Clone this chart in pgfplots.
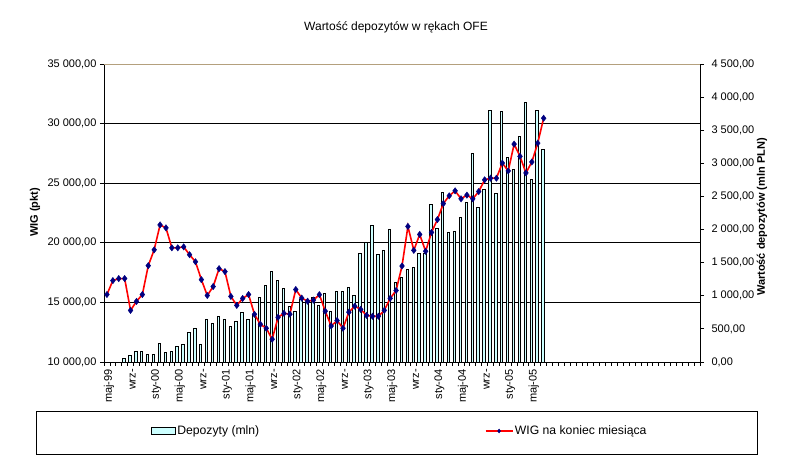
\documentclass[border=0pt]{standalone}
\usepackage{pgfplots}
\pgfplotsset{compat=1.18}
\usepackage{fontspec}
\setmainfont{Liberation Sans}
\definecolor{barfill}{HTML}{CCFFFF}
\definecolor{navyc}{HTML}{000080}
\definecolor{tanc}{RGB}{180,160,125}
\pgfplotsset{
  base/.style={width=596bp,height=298bp,scale only axis,at={(0,0)},anchor=south west,
    xmin=0.5,xmax=101.5, scaled ticks=false,
    tick label style={font=\fontsize{11bp}{13bp}\selectfont},
    /pgf/number format/assume math mode=true,
    tick align=outside, major tick length=4bp},
  barleg/.style={legend image code/.code={\draw[##1] (0bp,-3.3bp) rectangle (24bp,3.3bp);}},
  lineleg/.style={legend image code/.code={\draw[##1, mark size=2bp, mark repeat=2, mark phase=2] plot coordinates {(0bp,0bp) (13.5bp,0bp) (27bp,0bp)};}},
}
\begin{document}
\begin{tikzpicture}[x=1bp,y=1bp]
\useasboundingbox (-104,-98) rectangle (684,362);
% axis A: grid, left axis, category axis
\begin{axis}[base, ymin=10000, ymax=35000,
  axis x line*=bottom, axis y line*=left,
  axis line style={line width=0.8bp,-},
  ytick={10000,15000,20000,25000,30000},
  yticklabels={\mbox{10 000,00},\mbox{15 000,00},\mbox{20 000,00},\mbox{25 000,00},\mbox{30 000,00}},
  extra y ticks={35000}, extra y tick labels={\mbox{35 000,00}},
  extra y tick style={grid style={tanc, line width=0.8bp}},
  ymajorgrids, grid style={black, line width=0.8bp},
  tick style={black, line width=0.8bp},
  xtick={0.5,1.5,...,101.5}, xticklabels={},
  extra x ticks={1,5,9,13,17,21,25,29,33,37,41,45,49,53,57,61,65,69,73},
  extra x tick labels={\mbox{maj-99},\mbox{wrz-},\mbox{sty-00},\mbox{maj-00},\mbox{wrz-},\mbox{sty-01},\mbox{maj-01},\mbox{wrz-},\mbox{sty-02},\mbox{maj-02},\mbox{wrz-},\mbox{sty-03},\mbox{maj-03},\mbox{wrz-},\mbox{sty-04},\mbox{maj-04},\mbox{wrz-},\mbox{sty-05},\mbox{maj-05}},
  extra x tick style={major tick length=0pt, xticklabel style={rotate=90, anchor=east, inner sep=0pt, xshift=-7bp, yshift=-2bp}},
]
\addplot[draw=none] coordinates {(1,10000)};
\end{axis}
% axis B: deposits (bars), right axis
\begin{axis}[base, ymin=0, ymax=4500,
  axis y line*=right, axis x line=none,
  axis line style={line width=0.8bp,-},
  tick style={black, line width=0.8bp},
  ytick={0,500,1000,1500,2000,2500,3000,3500,4000,4500},
  yticklabels={\mbox{0,00},\mbox{500,00},\mbox{1 000,00},\mbox{1 500,00},\mbox{2 000,00},\mbox{2 500,00},\mbox{3 000,00},\mbox{3 500,00},\mbox{4 000,00},\mbox{4 500,00}},
  yticklabel style={xshift=4bp},
  ybar, bar width=2.4bp]
\addplot[fill=barfill, draw=black, line width=0.6bp, bar shift=-0.8bp] coordinates {
(4,60) (5,94) (6,164) (7,164) (8,110) (9,110) (10,284) (11,150) (12,164) (13,244)
(14,274) (15,450) (16,514) (17,274) (18,650) (19,584) (20,690) (21,650) (22,544) (23,620)
(24,750) (25,650) (26,724) (27,974) (28,1154) (29,1364) (30,1229) (31,1109) (32,839) (33,764)
(34,945) (35,900) (36,974) (37,854) (38,1034) (39,764) (40,1070) (41,1070) (42,1124) (43,1004)
(44,1634) (45,1814) (46,2069) (47,1619) (48,1694) (49,2009) (50,1200) (51,1284) (52,1394) (53,1424)
(54,1634) (55,1634) (56,2384) (57,2024) (58,2564) (59,1964) (60,1979) (61,2189) (62,2414) (63,3149)
(64,2339) (65,2609) (66,3794) (67,2549) (68,3779) (69,3089) (70,2909) (71,3404) (72,3929) (73,2759)
(74,3794) (75,3209)};
\end{axis}
% axis C: WIG line
\begin{axis}[base, ymin=10000, ymax=35000, hide axis, clip=false,
  legend columns=2,
  legend style={at={(0.4959,-0.2315)}, anchor=center, draw=none, fill=none,
    font=\fontsize{12.2bp}{14bp}\selectfont, inner sep=0pt,
    nodes={inner sep=1.5bp},
    /tikz/every even column/.append style={column sep=224bp}},
]
\addlegendimage{barleg, fill=barfill, draw=black, line width=0.6bp}
\addlegendentry{Depozyty (mln)}
\addplot[lineleg, red, line width=1.6bp, mark=diamond*, mark size=3.2bp,
  mark options={fill=navyc, draw=navyc, line width=0.4bp}]
coordinates {
(1,15660) (2,16830) (3,17000) (4,17000) (5,14330) (6,15080) (7,15660) (8,18080) (9,19410) (10,21500)
(11,21250) (12,19580) (13,19580) (14,19660) (15,19000) (16,18410) (17,16910) (18,15580) (19,16330) (20,17830)
(21,17580) (22,15500) (23,14750) (24,15330) (25,15660) (26,14000) (27,13160) (28,12830) (29,11910) (30,13750)
(31,14080) (32,14010) (33,16080) (34,15360) (35,15100) (36,15190) (37,15650) (38,14260) (39,13020) (40,13480)
(41,12830) (42,14180) (43,14680) (44,14410) (45,13910) (46,13840) (47,13840) (48,14330) (49,15340) (50,16000)
(51,18050) (52,21370) (53,19370) (54,20700) (55,19290) (56,20870) (57,21950) (58,23290) (59,23940) (60,24360)
(61,23690) (62,24000) (63,23690) (64,24300) (65,25280) (66,25420) (67,25420) (68,26690) (69,26030) (70,28280)
(71,27250) (72,25860) (73,26780) (74,28360) (75,30450)};
\addlegendentry{WIG na koniec miesiąca}
\end{axis}
\node[font=\fontsize{12bp}{14bp}\selectfont] at (292,335) {Wartość depozytów w rękach OFE};
\node[rotate=90, font=\bfseries\fontsize{11bp}{13bp}\selectfont] at (-69,149.5) {WIG (pkt)};
\node[rotate=90, font=\bfseries\fontsize{11bp}{13bp}\selectfont] at (658,145) {Wartość depozytów (mln PLN)};
\draw[line width=0.8bp] (-68,-49) rectangle (653.3,-92.3);
\end{tikzpicture}
\end{document}
